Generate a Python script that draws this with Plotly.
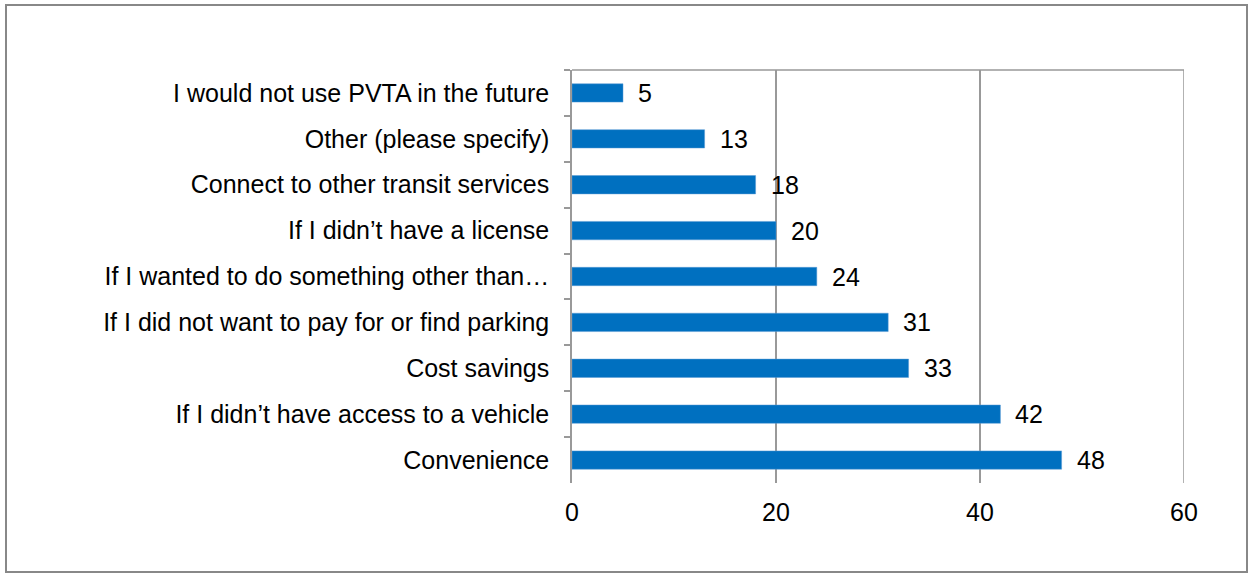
import plotly.graph_objects as go

categories = [
    "I would not use PVTA in the future",
    "Other (please specify)",
    "Connect to other transit services",
    "If I didn\u2019t have a license",
    "If I wanted to do something other than\u2026",
    "If I did not want to pay for or find parking",
    "Cost savings",
    "If I didn\u2019t have access to a vehicle",
    "Convenience",
]
values = [5, 13, 18, 20, 24, 31, 33, 42, 48]
x_ticks = [0, 20, 40, 60]

W, H = 1252, 577
L, R, T, B = 572, 68, 70, 94
pw = W - L - R
ph = H - T - B
FONT = "Liberation Sans, Arial"
FS = 25

fig = go.Figure()
fig.add_trace(go.Bar(
    x=values, y=categories, orientation="h",
    marker=dict(color="#0070C0", line=dict(color="#5b9bd5", width=0.5)),
    width=0.4,
))

for c, v in zip(categories, values):
    fig.add_annotation(x=v, y=c, text=str(v), showarrow=False,
                       xanchor="left", xshift=13,
                       font=dict(family=FONT, size=FS, color="#000"))

grid = "#999999"
fig.update_layout(
    width=W, height=H,
    margin=dict(l=L, r=R, t=T, b=B),
    paper_bgcolor="white", plot_bgcolor="white",
    showlegend=False,
    font=dict(family=FONT, size=FS, color="#000"),
    xaxis=dict(range=[0, 60], tickvals=x_ticks, showgrid=True, gridcolor=grid,
               gridwidth=1.5, zeroline=False, showline=False, ticks="",
               ticklabelstandoff=12, tickfont=dict(size=FS)),
    yaxis=dict(autorange="reversed", type="category", tickson="boundaries",
               ticks="outside", ticklen=6, tickcolor=grid, tickwidth=1.5,
               showline=True, linecolor=grid, linewidth=1.5,
               showgrid=False, ticklabelstandoff=16, tickfont=dict(size=FS)),
    shapes=[
        dict(type="line", xref="paper", yref="paper", x0=0, x1=1, y0=1, y1=1,
             line=dict(color=grid, width=1.5)),
        dict(type="line", xref="x", yref="paper", x0=x_ticks[-1], x1=x_ticks[-1],
             y0=0, y1=1, line=dict(color=grid, width=1.5)),
        dict(type="rect", xref="paper", yref="paper",
             x0=(6 - L) / pw, x1=(1247 - L) / pw,
             y0=(H - B - 572) / ph, y1=(H - B - 5) / ph,
             line=dict(color="#888888", width=2)),
    ],
)

fig.write_html("out.html", config={"displayModeBar": False},
               post_script="document.body.style.margin='0';")
